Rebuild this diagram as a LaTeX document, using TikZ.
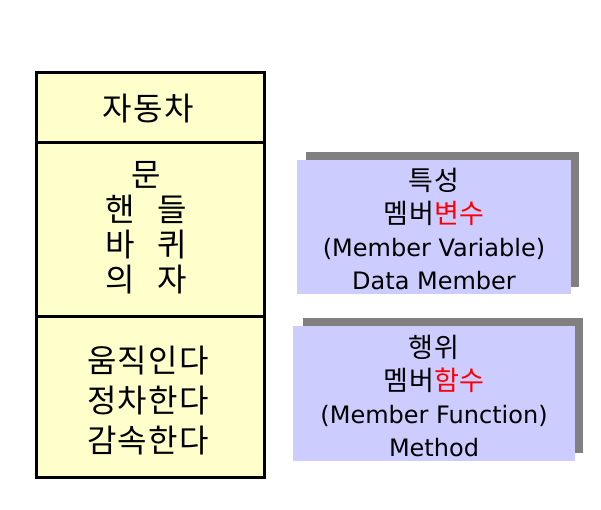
\documentclass[tikz,border=0pt]{standalone}
\usepackage{fontspec}
\setmainfont{DejaVu Sans}
\newfontfamily\kr{Noto Sans CJK KR}
\newfontfamily\krwide[LetterSpace=4]{Noto Sans CJK KR}
\definecolor{cellyellow}{HTML}{FFFFCC}
\definecolor{lav}{HTML}{CCCCFF}
\definecolor{shadowgray}{HTML}{808080}
\definecolor{krred}{HTML}{FF0000}
\begin{document}
\begin{tikzpicture}[x=1pt,y=-1pt,
  cellbox/.style={draw=black, line width=3pt, fill=cellyellow, minimum width=228pt, anchor=north west, inner sep=0pt, outer sep=0pt},
  celltext/.style={align=center, inner sep=0pt, font=\krwide\fontsize{32}{35}\selectfont},
  shadowbox/.style={fill=shadowgray, anchor=north west, inner sep=0pt, outer sep=0pt},
  infobox/.style={fill=lav, anchor=north west, inner sep=0pt, outer sep=0pt},
  infotext/.style={align=center, inner sep=0pt, font=\fontsize{24}{33}\selectfont},
  krline/.style={}]
\useasboundingbox (0,0) rectangle (601,509);
% left class box
\node[cellbox, minimum height=70pt] (head) at (36,72) {};
\node[cellbox, minimum height=174pt] (attrs) at (36,142) {};
\node[cellbox, minimum height=161pt] (ops) at (36,316) {};
\node[celltext] (headtext) at (148,109) {자동차};
\node[celltext] (attrtext) at (146,228) {문\\핸\hspace{0.7em}들\\바\hspace{0.7em}퀴\\의\hspace{0.7em}자};
\node[celltext, font=\krwide\fontsize{32}{40}\selectfont] (optext) at (148,401) {움직인다\\정차한다\\감속한다};
% right boxes
\node[shadowbox, minimum width=273pt, minimum height=135pt] (sh1) at (306,152) {};
\node[infobox, minimum width=274pt, minimum height=134pt] (box1) at (297,160) {};
\node[infotext] (t1) at (434,229) {{\krwide\fontsize{27}{33}\selectfont 특성}\\{\krwide\fontsize{27}{33}\selectfont 멤버\textcolor{krred}{변수}}\\(Member Variable)\\Data Member};
\node[shadowbox, minimum width=280pt, minimum height=135pt] (sh2) at (303,318) {};
\node[infobox, minimum width=282pt, minimum height=135pt] (box2) at (293,326) {};
\node[infotext] (t2) at (434,396) {{\krwide\fontsize{27}{33}\selectfont 행위}\\{\krwide\fontsize{27}{33}\selectfont 멤버\textcolor{krred}{함수}}\\(Member Function)\\Method};
\end{tikzpicture}
\end{document}
